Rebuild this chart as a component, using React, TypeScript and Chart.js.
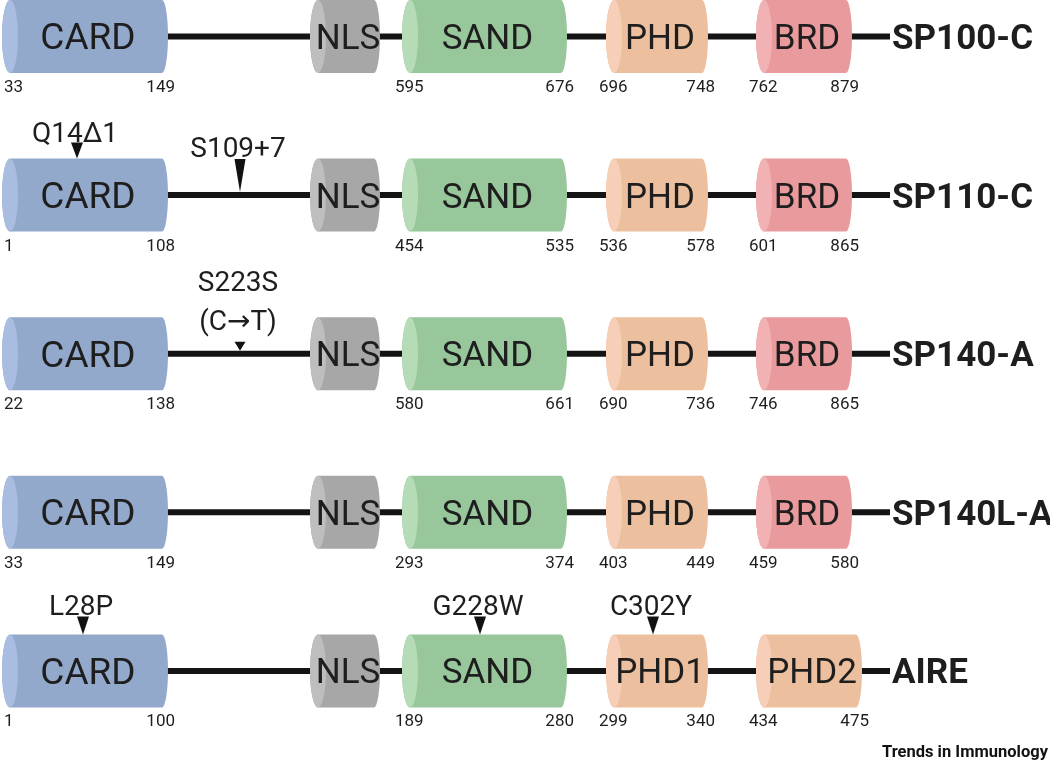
import React, { useEffect, useRef } from 'react';
import { Chart, registerables } from 'chart.js';

Chart.register(...registerables);

// ---------------- data ----------------
const proteins = ['SP100-C', 'SP110-C', 'SP140-A', 'SP140L-A', 'AIRE'];

const spDomainNames = ['CARD', 'NLS', 'SAND', 'PHD', 'BRD'];
const aireDomainNames = ['CARD', 'NLS', 'SAND', 'PHD1', 'PHD2'];

// schematic extents of each domain on the diagram axis (not to residue scale)
const spDomainSpans = [[2, 168], [310, 380], [402, 567], [606, 708], [756, 852]];
const aireDomainSpans = [[2, 168], [310, 380], [402, 567], [606, 708], [756, 862]];

// residue boundaries printed under each domain (NLS has none)
const sp100cResidues = [[33, 149], null, [595, 676], [696, 748], [762, 879]];
const sp110cResidues = [[1, 108], null, [454, 535], [536, 578], [601, 865]];
const sp140aResidues = [[22, 138], null, [580, 661], [690, 736], [746, 865]];
const sp140laResidues = [[33, 149], null, [293, 374], [403, 449], [459, 580]];
const aireResidues = [[1, 100], null, [189, 280], [299, 340], [434, 475]];

// variants: protein, label lines, diagram position, where the marker sits
const mutationProteins = ['SP110-C', 'SP110-C', 'SP140-A', 'AIRE', 'AIRE', 'AIRE'];
const mutationLabels = [['Q14Δ1'], ['S109+7'], ['S223S', '(C→T)'], ['L28P'], ['G228W'], ['C302Y']];
const mutationAt = [77, 240, 240, 83, 480, 653];
const mutationSite = ['domain', 'linker', 'linker', 'domain', 'domain', 'domain'];

// ---------------- styles ----------------
const domainColors: Record<string, { body: string; face: string }> = {
  CARD: { body: '#93a9cc', face: '#a9bde0' },
  NLS: { body: '#a7a7a7', face: '#bebebe' },
  SAND: { body: '#97c79b', face: '#b5dbb7' },
  PHD: { body: '#ecc09f', face: '#f7cfb9' },
  PHD1: { body: '#ecc09f', face: '#f7cfb9' },
  PHD2: { body: '#ecc09f', face: '#f7cfb9' },
  BRD: { body: '#e89a9c', face: '#f2b1b2' },
};
const markerStyle: Record<string, { h: number; w: number; gap: number }> = {
  'Q14Δ1': { h: 16, w: 12, gap: 1 },
  'S109+7': { h: 33, w: 11, gap: 2 },
  'S223S': { h: 9, w: 11, gap: 12 },
  default: { h: 18, w: 12, gap: 1 },
};
const LABEL_AT = 892;
const FONT = 'Roboto, "Noto Sans", "DejaVu Sans", sans-serif';
const INK = '#1e1e1e';

const domainNamesFor = (row: number) => (proteins[row] === 'AIRE' ? aireDomainNames : spDomainNames);
const spansFor = (row: number) => (proteins[row] === 'AIRE' ? aireDomainSpans : spDomainSpans);
const residuesFor = [sp100cResidues, sp110cResidues, sp140aResidues, sp140laResidues, aireResidues];

function drawCylinder(ctx: CanvasRenderingContext2D, x0: number, x1: number, yc: number, h: number, body: string, face: string) {
  const rxL = 8;
  const rxR = 6;
  const ry = h / 2;
  ctx.beginPath();
  ctx.moveTo(x0 + rxL, yc - ry);
  ctx.lineTo(x1 - rxR, yc - ry);
  ctx.ellipse(x1 - rxR, yc, rxR, ry, 0, -Math.PI / 2, Math.PI / 2);
  ctx.lineTo(x0 + rxL, yc + ry);
  ctx.ellipse(x0 + rxL, yc, rxL, ry, 0, Math.PI / 2, Math.PI * 1.5);
  ctx.closePath();
  ctx.fillStyle = body;
  ctx.fill();
  ctx.beginPath();
  ctx.ellipse(x0 + rxL, yc, rxL, ry, 0, 0, Math.PI * 2);
  ctx.fillStyle = face;
  ctx.fill();
}

function boxOf(el: any) {
  const p = el.getProps(['x', 'y', 'base', 'height'], true);
  return { x0: Math.min(p.x, p.base), x1: Math.max(p.x, p.base), y: p.y, h: p.height };
}

const diagramPlugin = {
  id: 'domainDiagram',
  beforeDatasetsDraw(chart: any) {
    const ctx = chart.ctx as CanvasRenderingContext2D;
    const xs = chart.scales.x;
    ctx.save();
    ctx.strokeStyle = '#141414';
    ctx.lineWidth = 6;
    proteins.forEach((_, row) => {
      const first = boxOf(chart.getDatasetMeta(0).data[row]);
      ctx.beginPath();
      ctx.moveTo((first.x0 + first.x1) / 2, first.y);
      ctx.lineTo(xs.getPixelForValue(LABEL_AT) - 2, first.y);
      ctx.stroke();
    });
    ctx.restore();
  },
  beforeDatasetDraw(chart: any, args: any) {
    const ctx = chart.ctx as CanvasRenderingContext2D;
    const slot = args.index;
    ctx.save();
    args.meta.data.forEach((el: any, row: number) => {
      const b = boxOf(el);
      const c = domainColors[domainNamesFor(row)[slot]];
      drawCylinder(ctx, b.x0, b.x1, b.y, b.h, c.body, c.face);
    });
    ctx.restore();
    return false;
  },
  afterDatasetsDraw(chart: any) {
    const ctx = chart.ctx as CanvasRenderingContext2D;
    const xs = chart.scales.x;
    ctx.save();
    ctx.fillStyle = INK;
    proteins.forEach((name, row) => {
      const names = domainNamesFor(row);
      const res = residuesFor[row];
      let yc = 0;
      let half = 0;
      names.forEach((dn, slot) => {
        const b = boxOf(chart.getDatasetMeta(slot).data[row]);
        yc = b.y;
        half = b.h / 2;
        ctx.font = `${dn === 'CARD' ? 37 : 35}px ${FONT}`;
        ctx.textAlign = 'center';
        ctx.textBaseline = 'alphabetic';
        ctx.fillText(dn, (b.x0 + b.x1) / 2 + 3, b.y + (dn === 'CARD' ? 13 : 12.5));
        const r = res[slot];
        if (r) {
          ctx.font = `17px ${FONT}`;
          const ny = b.y + half + 19;
          ctx.textAlign = 'left';
          ctx.fillText(String(r[0]), Math.max(b.x0 - 7, 4), ny);
          ctx.textAlign = 'right';
          ctx.fillText(String(r[1]), b.x1 + 7, ny);
        }
      });
      ctx.font = `bold 35px ${FONT}`;
      ctx.textAlign = 'left';
      ctx.fillText(name, xs.getPixelForValue(LABEL_AT), yc + 12.5);
    });

    // variant markers
    const ys = chart.scales.y;
    mutationProteins.forEach((p, i) => {
      const row = proteins.indexOf(p);
      const yc = ys.getPixelForValue(row);
      const b = boxOf(chart.getDatasetMeta(0).data[row]);
      const tip = mutationSite[i] === 'domain' ? yc - b.h / 2 : yc - 3;
      const x = xs.getPixelForValue(mutationAt[i]);
      const st = markerStyle[mutationLabels[i][0]] || markerStyle.default;
      ctx.fillStyle = '#111';
      ctx.beginPath();
      ctx.moveTo(x - st.w / 2, tip - st.h);
      ctx.lineTo(x + st.w / 2, tip - st.h);
      ctx.lineTo(x, tip);
      ctx.closePath();
      ctx.fill();
      ctx.fillStyle = INK;
      ctx.font = `28px ${FONT}`;
      ctx.textAlign = 'center';
      const lines = mutationLabels[i];
      let base = tip - st.h - st.gap;
      for (let k = lines.length - 1; k >= 0; k--) {
        ctx.fillText(lines[k], x - 2, base);
        base -= 39;
      }
    });

    ctx.font = `bold 17px ${FONT}`;
    ctx.textAlign = 'right';
    ctx.fillStyle = '#111';
    ctx.fillText('Trends in Immunology', 1048, 757, 166);
    ctx.restore();
  },
};

export default function App() {
  const ref = useRef<HTMLCanvasElement>(null);
  useEffect(() => {
    document.body.style.margin = '0';
    const datasets = spDomainNames.map((slotName, slot) => ({
      label: slotName,
      data: proteins.map((_, row) => ({ x: spansFor(row)[slot], y: row })),
      backgroundColor: proteins.map((_, row) => domainColors[domainNamesFor(row)[slot]].body),
      barThickness: 73,
      grouped: false,
    }));
    const chart = new Chart(ref.current as HTMLCanvasElement, {
      type: 'bar',
      data: { datasets } as any,
      options: {
        indexAxis: 'y',
        animation: false,
        responsive: false,
        events: [],
        layout: { padding: 0 },
        plugins: { legend: { display: false }, tooltip: { enabled: false } },
        scales: {
          x: { type: 'linear', min: 0, max: 1050, display: false, offset: false, grace: 0 },
          y: { type: 'linear', min: -0.23, max: 4.568, reverse: true, display: false, offset: false, grace: 0 },
        },
      } as any,
      plugins: [diagramPlugin as any],
    });
    return () => chart.destroy();
  }, []);
  return (
    <div style={{ width: 1050, height: 761, background: '#fff' }}>
      <canvas ref={ref} width={1050} height={761} style={{ display: 'block' }} />
    </div>
  );
}
